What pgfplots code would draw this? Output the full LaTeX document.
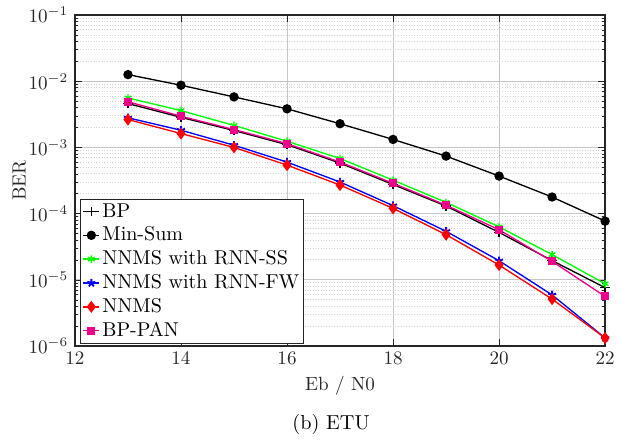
\documentclass[border=0pt]{standalone}
\usepackage{pgfplots}
\pgfplotsset{compat=1.18}
\definecolor{axgray}{RGB}{38,38,38}
\begin{document}
\begin{tikzpicture}
\begin{axis}[
    name=ax,
    scale only axis,
    width=278pt, height=173.5pt,
    xmin=12, xmax=22,
    ymode=log, ymin=1e-6, ymax=1e-1,
    xtick={12,14,16,18,20,22},
    grid=both,
    major grid style={gray!45, line width=0.5pt},
    minor grid style={densely dotted, gray!35, line width=0.4pt},
    axis line style={axgray, line width=0.9pt},
    tick style={axgray},
    tick align=inside,
    major tick length=3.5pt, minor tick length=1.8pt,
    ticklabel style={text=axgray},
    label style={text=axgray},
    xlabel={Eb / N0}, ylabel={BER},
    xlabel style={yshift=1pt},
    ylabel style={yshift=-5.5pt},
    legend cell align=left,
    legend style={at={(0.01,0.006)}, anchor=south west, draw=axgray,
        fill=white, inner sep=1pt, row sep=1.2pt,
        nodes={inner sep=1.2pt},
        font=\fontsize{10.5}{12}\selectfont},
    legend image code/.code={
        \draw[mark repeat=2, mark phase=2, #1]
            plot coordinates {(0cm,0cm) (0.15cm,0cm) (0.3cm,0cm)};},
]
\addplot[black, mark=+, mark size=2.5pt, line width=0.7pt]
    coordinates {(13,4.6e-3) (14,2.85e-3) (15,1.8e-3) (16,1.1e-3) (17,5.8e-4)
                 (18,2.75e-4) (19,1.3e-4) (20,5.2e-5) (21,1.95e-5) (22,7.6e-6)};
\addlegendentry{BP}
\addplot[black, mark=*, mark size=2.1pt, line width=0.7pt]
    coordinates {(13,1.26e-2) (14,8.7e-3) (15,5.8e-3) (16,3.83e-3) (17,2.28e-3)
                 (18,1.32e-3) (19,7.4e-4) (20,3.69e-4) (21,1.78e-4) (22,7.7e-5)};
\addlegendentry{Min-Sum}
\addplot[green, mark=asterisk, mark size=2pt, line width=0.7pt]
    coordinates {(13,5.6e-3) (14,3.6e-3) (15,2.15e-3) (16,1.24e-3) (17,6.8e-4)
                 (18,3.2e-4) (19,1.48e-4) (20,6.3e-5) (21,2.4e-5) (22,8.7e-6)};
\addlegendentry{NNMS with RNN-SS}
\addplot[blue, mark=star, mark size=2.2pt, line width=0.7pt, mark options={line width=1pt}]
    coordinates {(13,2.8e-3) (14,1.82e-3) (15,1.08e-3) (16,6.0e-4) (17,3.0e-4)
                 (18,1.32e-4) (19,5.4e-5) (20,1.94e-5) (21,5.9e-6) (22,1.32e-6)};
\addlegendentry{NNMS with RNN-FW}
\addplot[red, mark=diamond*, mark size=2.6pt, line width=0.7pt]
    coordinates {(13,2.64e-3) (14,1.62e-3) (15,1.0e-3) (16,5.4e-4) (17,2.7e-4)
                 (18,1.2e-4) (19,4.8e-5) (20,1.67e-5) (21,5.1e-6) (22,1.32e-6)};
\addlegendentry{NNMS}
\addplot[magenta, mark=square*, mark size=1.75pt, line width=0.7pt]
    coordinates {(13,4.9e-3) (14,2.96e-3) (15,1.86e-3) (16,1.14e-3) (17,6.0e-4)
                 (18,2.87e-4) (19,1.34e-4) (20,5.7e-5) (21,1.9e-5) (22,5.6e-6)};
\addlegendentry{BP-PAN}
\end{axis}
\node[font=\fontsize{10.6}{13}\selectfont, anchor=base]
    at ([xshift=-4.7pt, yshift=-44pt]ax.south) {(b) ETU};
\path ([xshift=-39.3pt, yshift=-47pt]ax.south west)
    rectangle ([xshift=7.9pt, yshift=7.9pt]ax.north east);
\end{tikzpicture}
\end{document}
